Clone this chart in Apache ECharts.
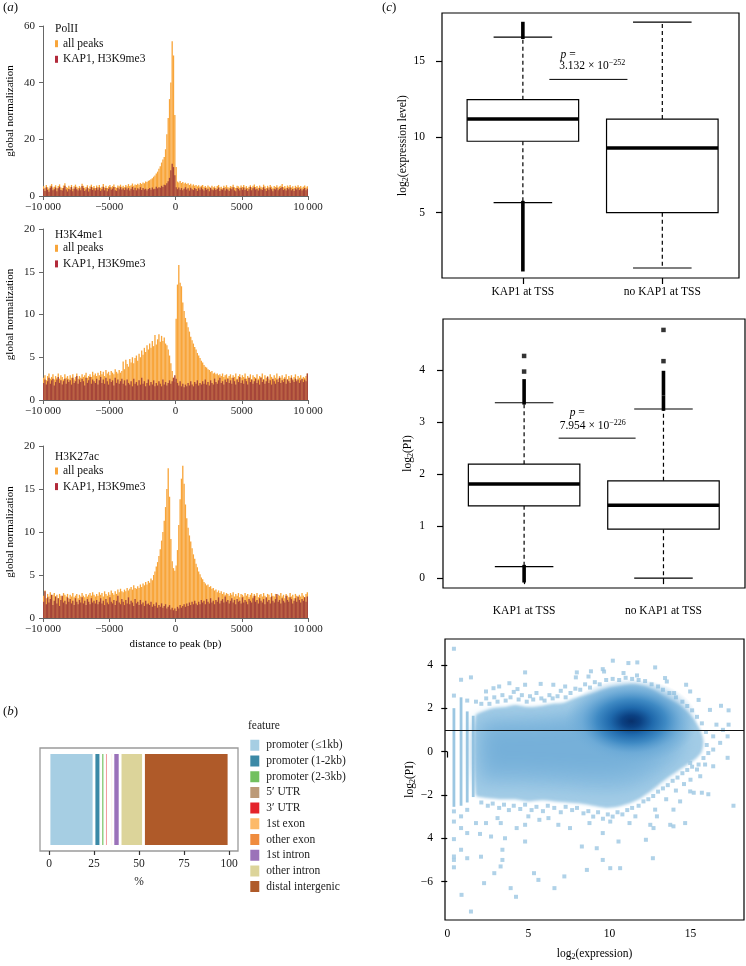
<!DOCTYPE html>
<html><head><meta charset="utf-8">
<script src="https://cdn.jsdelivr.net/npm/echarts@6/dist/echarts.min.js"></script>
<style>html,body{margin:0;padding:0;background:#fff}#c{width:746px;height:966px}</style>
</head><body><div id="c"></div><script>
// ---------------- DATA ----------------
// (a) histogram bins: 100 bp bins from -10000 to 10000
const BIN = 100;
const histTicks = [-10000, -5000, 0, 5000, 10000];
const histTickLabels = ['\u221210\u2009000', '\u22125000', '0', '5000', '10\u2009000'];
const histTitles = ['PolII', 'H3K4me1', 'H3K27ac'];
const histSeriesNames = ['all peaks', 'KAP1, H3K9me3'];

const polAll = [
3.4,2.8,3.9,3.1,2.6,3.6,4.2,2.9,3.3,3.8,2.7,3.5,4.1,3.0,2.8,3.7,4.5,3.2,2.9,3.6,
3.1,3.9,2.6,3.4,4.0,3.3,2.8,3.5,3.0,4.3,3.6,2.9,3.2,3.8,2.7,3.4,4.0,3.1,3.5,2.8,
3.7,3.2,3.9,2.9,3.3,4.2,3.0,3.6,2.8,3.4,3.9,3.1,3.5,4.1,3.2,2.9,3.7,3.4,4.0,3.3,
3.6,3.1,3.9,3.4,4.2,3.5,3.8,4.4,3.6,4.1,3.9,4.3,4.0,4.6,4.2,4.8,4.5,5.1,4.9,5.4,
5.6,5.9,6.3,6.8,7.2,7.9,8.6,9.6,10.5,11.8,12.9,13.8,16.5,21.8,27.5,34.2,40.1,54.6,49.6,28.6,
10.2,5.1,4.8,5.3,4.6,4.9,4.4,4.7,4.2,4.5,3.9,4.3,3.7,4.1,3.6,3.9,3.4,3.8,3.3,3.6,
3.9,3.2,3.5,3.0,3.7,3.3,2.9,3.6,3.1,3.4,2.8,3.5,3.9,3.0,3.3,2.7,3.6,3.2,3.8,3.1,
2.9,3.5,3.3,4.0,3.1,2.8,3.6,3.4,2.9,3.7,3.2,3.9,3.0,3.5,2.8,3.3,3.8,3.1,3.6,4.1,
3.2,3.5,2.9,3.7,3.3,3.0,4.0,3.4,2.8,3.6,3.1,3.9,3.3,2.7,3.5,3.2,3.8,3.0,3.4,3.6,
4.2,3.1,3.5,2.9,3.7,3.3,3.9,3.0,3.4,2.8,3.6,3.2,3.8,3.1,3.5,2.9,3.3,3.7,3.0,3.4];
const polKap = [
2.6,1.8,3.1,2.2,1.5,2.9,3.4,2.0,2.4,3.0,1.7,2.7,3.3,2.1,1.9,2.8,3.6,2.3,1.6,2.5,
2.2,3.2,1.7,2.6,3.1,2.4,1.9,2.7,2.0,3.5,2.8,1.8,2.3,3.0,1.6,2.5,3.2,2.1,2.7,1.9,
2.9,2.2,3.0,1.8,2.4,3.3,2.0,2.8,1.7,2.5,3.1,2.2,2.6,3.2,2.0,1.8,2.9,2.4,3.1,2.3,
2.7,2.1,3.0,2.3,2.8,1.9,2.6,3.2,2.2,2.9,2.0,2.7,2.4,3.1,2.1,2.8,2.3,2.6,1.9,2.5,
2.8,2.2,3.0,2.4,2.6,3.3,2.7,3.1,2.9,3.6,3.2,4.0,3.8,4.5,5.2,6.4,9.1,11.4,10.2,7.3,
3.1,2.4,3.0,2.2,2.8,2.0,2.6,3.1,2.3,2.7,1.9,2.9,2.4,2.1,2.8,2.5,1.8,2.7,2.2,3.0,
2.4,1.9,2.8,2.2,2.6,1.7,2.9,2.3,2.0,2.7,2.1,2.5,3.0,1.8,2.4,2.2,2.8,1.9,2.6,2.3,
1.8,2.7,2.4,3.1,2.0,1.7,2.8,2.5,1.9,2.9,2.2,3.0,2.1,2.6,1.8,2.4,3.2,2.0,2.7,3.1,
2.3,2.6,1.9,2.8,2.4,2.1,3.1,2.5,1.8,2.7,2.2,3.0,2.4,1.7,2.6,2.3,2.9,2.0,2.5,2.8,
3.2,2.1,2.6,1.9,2.8,2.4,3.0,2.0,2.5,1.8,2.7,2.3,2.9,2.1,2.6,1.9,2.4,2.8,2.0,2.6];
const k4All = [
2.6,2.9,2.3,2.8,3.1,2.5,2.7,3.0,2.4,2.8,2.6,3.1,2.5,2.9,2.7,2.4,3.0,2.6,2.8,2.5,
2.9,2.6,3.0,2.4,2.7,3.1,2.5,2.8,2.6,3.0,2.7,2.9,3.2,2.6,2.8,3.0,2.7,3.3,2.9,3.1,
2.8,3.2,2.9,3.4,3.0,3.3,2.8,3.5,3.1,3.3,2.9,3.4,3.2,3.0,3.6,3.3,3.1,3.5,3.2,3.4,
4.5,3.6,4.7,4.2,3.9,4.8,4.4,5.0,4.3,4.9,5.2,4.6,5.4,5.0,5.8,5.3,6.1,5.6,6.4,5.9,
6.6,6.1,6.9,6.3,7.6,6.5,7.1,7.7,6.8,7.5,6.9,7.3,6.6,6.4,5.9,5.2,4.3,3.4,2.6,2.1,
9.5,13.5,15.8,13.7,13.3,11.4,10.4,9.6,9.1,8.5,8.0,7.4,7.0,6.6,6.2,5.9,5.5,5.2,4.9,4.6,
4.4,4.1,3.9,3.8,3.6,3.5,3.3,3.4,3.1,3.2,3.0,3.1,2.9,3.0,2.8,3.1,2.7,2.9,3.0,2.6,
2.8,3.0,2.6,2.9,2.7,3.1,2.5,2.8,3.0,2.6,2.9,2.7,3.1,2.5,2.8,2.6,3.0,2.4,2.9,2.7,
2.6,3.0,2.5,2.8,2.7,3.1,2.4,2.9,2.6,2.8,2.5,3.0,2.7,2.4,2.9,2.6,3.1,2.5,2.8,2.6,
2.9,2.5,2.7,3.0,2.4,2.8,2.6,2.9,2.5,2.7,3.0,2.4,2.8,2.6,2.9,2.5,2.7,2.6,2.8,3.1];
const k4Kap = [
2.0,2.4,1.8,2.2,2.6,1.9,2.3,2.5,1.7,2.1,2.4,2.7,2.0,2.3,1.8,2.2,2.5,1.9,2.4,2.1,
2.3,1.8,2.6,2.0,2.2,2.8,1.9,2.4,2.1,2.5,2.2,1.7,2.6,2.0,2.3,2.7,1.9,2.4,2.2,2.0,
2.5,1.8,2.3,2.7,2.0,2.4,1.9,2.6,2.2,1.8,2.5,2.1,2.3,1.7,2.6,2.0,2.4,1.9,2.2,2.5,
1.9,2.3,1.7,2.4,2.0,1.8,2.2,1.6,2.5,1.9,2.1,1.7,2.3,1.8,2.6,1.9,2.2,1.6,2.0,2.4,
1.7,2.1,1.8,2.3,1.6,2.0,1.7,2.2,1.9,1.6,2.4,1.8,2.1,1.7,2.0,2.3,1.9,2.2,2.6,2.9,
2.5,2.0,1.7,2.2,1.6,1.9,1.5,1.8,1.6,2.0,1.7,2.2,1.8,1.6,2.1,1.9,2.3,1.7,2.0,1.8,
2.2,1.9,2.4,1.8,2.1,1.7,2.3,2.0,1.8,2.5,2.1,1.9,2.3,2.6,2.0,2.2,1.8,2.4,2.1,2.5,
2.0,2.3,1.9,2.6,2.2,1.8,2.4,2.1,2.7,2.0,2.3,1.9,2.5,2.2,1.8,2.6,2.1,2.4,1.9,2.2,
2.5,2.0,2.3,1.8,2.6,2.1,2.4,1.9,2.2,2.7,2.0,2.3,1.8,2.5,2.2,1.9,2.4,2.1,2.6,2.0,
2.3,2.1,2.5,1.9,2.4,2.2,2.0,2.6,2.3,2.1,2.5,2.2,2.4,2.0,2.3,2.5,2.1,2.4,2.2,3.1];
const k27All = [
2.6,3.2,2.3,2.8,2.5,3.0,2.4,2.7,2.9,2.5,2.7,2.3,2.8,2.6,2.4,2.9,2.7,2.5,2.8,2.3,
2.7,2.5,2.9,2.4,2.6,2.8,2.3,2.7,2.5,2.9,2.6,2.4,2.8,2.5,2.7,2.9,2.6,3.0,2.7,2.5,
2.8,2.6,3.0,2.7,2.9,2.5,3.1,2.8,2.6,3.0,2.7,3.2,2.9,2.7,3.1,2.8,3.3,3.0,3.4,3.1,
3.0,3.3,3.1,3.5,3.2,3.4,3.6,3.3,3.8,3.5,3.4,3.7,3.5,3.9,3.6,4.0,3.8,4.2,3.9,4.3,
4.1,4.6,4.4,5.0,5.4,6.0,6.5,7.2,8.0,9.0,10.0,11.3,12.9,15.0,17.4,14.1,9.2,6.6,5.8,5.5,
6.1,7.9,10.8,13.8,16.2,17.7,15.6,13.2,11.6,10.5,9.6,8.9,8.1,7.4,6.9,6.3,5.9,5.4,5.1,4.7,
4.5,4.2,4.0,3.8,3.9,3.6,3.7,3.4,3.5,3.2,3.3,3.0,3.2,2.9,3.1,2.8,3.0,2.7,2.9,2.8,
2.6,2.9,2.7,3.0,2.5,2.8,2.6,2.9,2.4,2.8,2.7,2.5,2.9,2.6,2.8,2.4,2.7,2.9,2.5,2.8,
2.6,2.9,2.4,2.7,2.8,2.5,2.9,2.6,2.3,2.8,2.7,2.4,2.9,2.6,2.5,2.8,2.4,2.7,2.6,2.9,
2.5,2.7,2.3,2.8,2.6,2.4,2.9,2.5,2.7,2.3,2.8,2.6,2.4,2.7,2.5,2.9,2.6,2.4,2.8,3.0];
const k27Kap = [
1.9,3.1,1.6,2.4,1.8,2.2,2.7,1.5,2.0,2.5,1.7,2.3,1.4,2.1,2.6,1.8,2.0,1.6,2.4,1.9,
2.2,1.7,2.0,1.5,2.3,1.9,1.6,2.1,1.8,2.4,1.7,2.0,1.5,2.2,1.9,1.6,2.3,1.8,2.0,1.7,
2.1,1.6,1.9,2.3,1.7,2.0,1.5,2.2,1.8,1.6,2.4,1.9,1.7,2.1,1.5,2.0,2.6,1.8,1.6,2.2,
1.9,1.5,2.1,1.7,2.4,1.6,2.0,1.8,1.4,2.2,1.7,1.9,1.5,2.1,1.6,1.8,1.4,2.0,1.6,1.7,
1.5,1.9,1.3,1.6,1.4,1.8,1.2,1.5,1.3,1.7,1.2,1.4,1.6,1.1,1.3,1.5,1.0,1.2,0.9,1.1,
0.8,1.3,1.1,1.5,1.2,1.4,1.6,1.3,1.7,1.4,1.8,1.5,1.9,1.6,2.0,1.7,1.5,1.9,1.6,2.1,
1.8,2.0,1.6,2.2,1.9,1.7,2.3,1.8,2.0,1.6,2.1,1.9,2.4,1.7,2.0,2.2,1.8,2.5,1.9,2.1,
1.7,2.0,2.3,1.8,2.1,1.6,2.2,1.9,2.0,1.7,2.4,1.8,2.1,1.9,1.6,2.2,2.0,1.8,2.3,2.6,
1.9,2.1,1.7,2.3,2.0,1.8,2.2,1.6,2.4,1.9,2.1,1.7,2.5,2.0,1.8,2.2,2.8,1.9,2.1,1.7,
2.3,2.0,1.8,2.6,2.1,1.9,2.4,2.2,1.7,2.0,2.3,1.9,2.5,2.1,1.8,2.2,2.0,2.4,1.9,2.5];

// (b) genomic feature distribution (%)
const featureNames = ['promoter (\u22641kb)','promoter (1-2kb)','promoter (2-3kb)','5\u2032 UTR','3\u2032 UTR','1st exon','other exon','1st intron','other intron','distal intergenic'];
const featurePct = [25.0, 3.8, 2.2, 0.2, 1.8, 0.9, 1.6, 4.0, 13.0, 47.5];
const pctTicks = [0, 25, 50, 75, 100];

// (c) boxplots: [position, lowerWhisker, Q1, median, Q3, upperWhisker]
const boxCats = ['KAP1 at TSS', 'no KAP1 at TSS'];
const exprBox = [[1, 5.66, 9.72, 11.19, 12.47, 16.6], [2, 1.34, 5.0, 9.27, 11.19, 17.6]];
const exprOutRuns = [[1, 16.6, 17.5], [1, 1.23, 5.66]];
const exprOutPts = [];
const exprTicks = [5, 10, 15];
const piBox = [[1, 0.22, 1.39, 1.81, 2.19, 3.37], [2, 0.0, 0.94, 1.40, 1.87, 3.25]];
const piOutRuns = [[1, 3.37, 3.79], [1, -0.05, 0.22], [2, 3.25, 3.48], [2, 3.55, 3.95]];
const piOutPts = [[1, 3.97], [1, 4.27], [2, 4.17], [2, 4.77]];
const piTicks = [0, 1, 2, 3, 4];
// p-value annotations: [x1, x2, yLine, xValueText, yValueText, xP, yP]
const exprAnn = [1.19, 1.75, 13.81, 1.26, 14.67, 1.27, 15.45];
const exprPText = ['3.132', '\u2212252'];
const piAnn = [1.248, 1.8, 2.69, 1.255, 2.93, 1.327, 3.18];
const piPText = ['7.954', '\u2212226'];

// (c) scatter log2(PI) vs log2(expression)
const scatXTicks = [0, 5, 10, 15];
const scatYTicks = [-6, -4, -2, 0, 2, 4];
const scatYLabels = ['\u22126', '4', '\u22122', '0', '2', '4'];
const cloudOuter = [[1.75,1.65],[2.2,1.85],[2.8,2.0],[3.5,2.05],[4.2,2.15],[5.0,2.05],[5.8,2.1],[6.5,2.2],[7.2,2.25],[7.8,2.45],[8.5,2.6],[9.2,2.75],[10.0,2.95],[10.8,3.05],[11.5,3.1],[12.2,3.0],[12.8,2.8],[13.3,2.55],[13.8,2.35],[14.3,2.15],[14.8,1.85],[15.2,1.5],[15.6,1.0],[15.8,0.5],[15.7,0.0],[15.3,-0.35],[14.8,-0.6],[14.2,-0.9],[13.6,-1.2],[13.0,-1.55],[12.4,-1.9],[11.8,-2.2],[11.2,-2.4],[10.5,-2.55],[9.8,-2.6],[9.0,-2.5],[8.2,-2.4],[7.4,-2.35],[6.6,-2.3],[5.8,-2.25],[5.0,-2.3],[4.2,-2.2],[3.4,-2.2],[2.6,-2.15],[2.0,-2.1],[1.75,-2.0]];
const cloudMid = [[1.9,1.35],[3,1.5],[4.5,1.55],[6,1.6],[7.5,1.75],[8.5,2.0],[9.5,2.3],[10.5,2.5],[11.5,2.6],[12.5,2.4],[13.5,1.9],[14.3,1.3],[14.7,0.5],[14.3,-0.2],[13.3,-0.9],[12.3,-1.4],[11,-1.75],[9.5,-1.8],[8,-1.7],[6.5,-1.6],[5,-1.55],[3.5,-1.5],[2.2,-1.45],[1.9,-1.3]];
const cloudInner = [[2.5,1.0],[4,1.1],[5.5,1.15],[7,1.25],[8.5,1.5],[9.5,1.9],[10.5,2.15],[12,2.15],[13,1.75],[13.6,1.1],[13.5,0.4],[12.8,-0.3],[11.5,-0.8],[10,-1.0],[8.5,-1.0],[7,-0.95],[5.5,-0.9],[4,-0.85],[2.5,-0.8]];
const cloudCore = [[11.35, 1.4, 4.1, 1.95]]; // centre x, centre y, radius x, radius y
const lowExprStripes = [[0.41, 2.0, -2.55], [0.85, 2.5, -2.5], [1.23, 1.85, -2.35], [1.6, 1.65, -2.1]];
const piOutliers = [
[0.41,4.74],[0.41,2.58],[0.85,3.31],[1.46,3.42],[1.23,2.35],[1.77,2.3],[2.39,2.77],[2.85,2.92],[3.2,3.0],[3.83,3.15],[4.33,2.88],[4.8,3.65],[4.8,3.08],[5.76,3.12],[6.54,3.08],[7.27,3.0],[7.93,3.42],[7.99,3.65],[8.71,3.46],[8.86,3.7],[9.59,3.8],[9.67,3.69],[10.21,4.19],[10.87,3.62],[11.17,4.08],[11.72,4.11],[11.7,3.51],[12.82,3.88],[13.43,3.39],[13.54,3.23],[13.99,2.7],[14.73,3.08],[14.98,2.77],[15.5,2.38],[16.2,1.92],[16.88,2.11],[17.35,1.9],[17.35,1.24],[17.29,0.7],[17.29,-0.29],[17.65,-2.5],[17.0,1.0],[16.6,1.24],[16.4,0.7],[16.1,-0.07],[16.4,-0.68],[15.9,-0.6],[15.6,-1.14],[15.7,-1.9],[15.2,-1.9],[16.1,-1.97],[15.4,-0.83],[14.98,-0.53],[16.4,0.09],[16.83,0.4],
[0.41,-2.76],[0.41,-3.23],[0.41,-4.04],[0.41,-4.84],[0.41,-5.0],[0.41,-5.34],[0.85,-2.99],[0.85,-3.53],[0.85,-4.53],[0.88,-6.61],[1.23,-2.69],[1.23,-3.76],[1.23,-4.92],[1.46,-7.38],[1.77,-3.3],[2.02,-3.8],[2.08,-4.85],[2.27,-6.07],[2.39,-3.3],[2.7,-3.92],[2.9,-5.61],[3.1,-3.07],[3.3,-3.3],[3.4,-4.53],[3.4,-5.0],[3.29,-5.3],[3.56,-4.0],[3.91,-6.3],[4.24,-6.7],[4.28,-3.53],[4.8,-4.15],[4.8,-3.38],[5.0,-2.99],[5.35,-5.61],[5.62,-5.92],[5.68,-3.15],[6.24,-3.07],[6.61,-6.3],[6.85,-3.38],[7.22,-5.76],[7.57,-3.53],[8.3,-4.38],[8.61,-5.46],[8.77,-3.3],[9.22,-4.46],[9.59,-5.0],[9.59,-3.76],[10.05,-3.23],[10.05,-5.38],[10.56,-4.15],[10.66,-5.38],[11.24,-3.3],[11.6,-2.99],[12.25,-4.07],[12.52,-3.38],[12.68,-4.92],[12.72,-3.53],[12.82,-2.68],[12.93,-2.99],[13.75,-3.38],[13.95,-3.45],[13.95,-2.68],[14.36,-2.3],[14.67,-3.3],[14.98,-1.84],
[2.1,2.2],[2.4,2.45],[2.6,2.2],[2.9,2.5],[3.1,2.3],[3.4,2.6],[3.6,2.35],[3.9,2.5],[4.1,2.75],[4.4,2.4],[4.6,2.6],[4.9,2.3],[5.1,2.55],[5.3,2.4],[5.5,2.7],[5.8,2.45],[6.0,2.35],[6.3,2.6],[6.5,2.45],[6.8,2.55],[7.0,2.8],[7.3,2.5],[7.6,2.7],[7.9,2.9],[8.2,2.85],[8.5,3.1],[8.8,2.95],[9.1,3.2],[9.4,3.1],[9.8,3.3],[10.2,3.35],[10.6,3.3],[11.0,3.4],[11.4,3.35],[11.8,3.3],[12.2,3.25],[12.6,3.1],[13.0,3.0],[13.3,2.85],[13.7,2.7],[14.1,2.5],[14.5,2.3],[14.8,2.1],[15.1,1.9],[15.4,1.6],[15.7,1.3],[15.95,0.9],[16.0,0.3],[15.8,-0.3],[15.5,-0.6],
[2.1,-2.35],[2.5,-2.5],[2.8,-2.4],[3.2,-2.6],[3.5,-2.45],[3.8,-2.7],[4.1,-2.5],[4.5,-2.65],[4.8,-2.45],[5.2,-2.7],[5.5,-2.55],[5.9,-2.75],[6.2,-2.5],[6.6,-2.6],[7.0,-2.8],[7.3,-2.55],[7.7,-2.7],[8.0,-2.6],[8.4,-2.85],[8.7,-2.75],[9.0,-3.0],[9.3,-2.8],[9.6,-3.1],[9.9,-2.9],[10.2,-3.0],[10.5,-2.8],[10.8,-2.9],[11.1,-2.7],[11.4,-2.6],[11.8,-2.5],[12.1,-2.3],[12.4,-2.2],[12.7,-2.05],[13.0,-1.85],[13.3,-1.7],[13.6,-1.55],[13.9,-1.35],[14.2,-1.2],[14.5,-1.0],[14.8,-0.85],[15.1,-0.7],[14.6,-1.5],[15.0,-1.3],[14.1,-1.8],[13.5,-2.2]];
const piThreshold = 1;

// ---------------- STYLE / LAYOUT ----------------
const FONT = 'Liberation Serif';
const ORANGE = '#F8A53A', DARKRED = '#A5453A', KAPICON = '#B22A3A';
const featureColors = ['#A6CEE3','#3B89A6','#72C05F','#BC9A77','#E4232A','#FDBA69','#EF8C3E','#9B72B9','#DCD49A','#AF5A29'];
const POINT = '#9CC7E2';
const histGrids = [{left:43, top:26, width:265, height:170}, {left:43, top:229, width:265, height:171}, {left:43, top:446, width:265, height:172}];
const histYMax = [60, 20, 20], histYInt = [20, 5, 5];
const histTitleY = [29.3, 235, 456.7];
const histLegendTop = [37.2, 241.8, 464.5];
const BOX_W = 0.8, CAP_W = 0.42;
const OFF = 3000; // draw soft layers off-canvas and cast a blurred shadow back into place

const histData = [[polAll, polKap], [k4All, k4Kap], [k27All, k27Kap]];
const binStarts = polAll.map((_, i) => histTicks[0] + BIN * i);

function histRender(color) {
  return function (params, api) {
    const x0 = api.value(0), v = api.value(1);
    const p0 = api.coord([x0, 0]), p1 = api.coord([x0 + BIN, v]);
    return {type: 'rect', shape: {x: p0[0], y: p1[1], width: p1[0] - p0[0], height: p0[1] - p1[1]}, style: {fill: color}};
  };
}
function boxRender(params, api) {
  const x = api.value(0), lo = api.value(1), q1 = api.value(2), med = api.value(3), q3 = api.value(4), hi = api.value(5);
  const pL = api.coord([x - BOX_W / 2, q3]), pR = api.coord([x + BOX_W / 2, q1]);
  const c = api.coord([x, med]);
  const yLo = api.coord([x, lo])[1], yHi = api.coord([x, hi])[1];
  const cL = api.coord([x - CAP_W / 2, lo])[0], cR = api.coord([x + CAP_W / 2, lo])[0];
  const s = {stroke: '#000', lineWidth: 1.2, fill: null};
  return {type: 'group', children: [
    {type: 'line', shape: {x1: c[0], y1: pL[1], x2: c[0], y2: yHi}, style: Object.assign({lineDash: [4, 3]}, s)},
    {type: 'line', shape: {x1: c[0], y1: pR[1], x2: c[0], y2: yLo}, style: Object.assign({lineDash: [4, 3]}, s)},
    {type: 'line', shape: {x1: cL, y1: yHi, x2: cR, y2: yHi}, style: s},
    {type: 'line', shape: {x1: cL, y1: yLo, x2: cR, y2: yLo}, style: s},
    {type: 'rect', shape: {x: pL[0], y: pL[1], width: pR[0] - pL[0], height: pR[1] - pL[1]}, style: {fill: '#fff', stroke: '#000', lineWidth: 1.2}},
    {type: 'line', shape: {x1: pL[0], y1: c[1], x2: pR[0], y2: c[1]}, style: {stroke: '#000', lineWidth: 3.6}}
  ]};
}
function runRender(params, api) {
  const x = api.value(0);
  const a = api.coord([x, api.value(1)]), b = api.coord([x, api.value(2)]);
  return {type: 'rect', shape: {x: a[0] - 1.8, y: Math.min(a[1], b[1]) - 1.8, width: 3.6, height: Math.abs(a[1] - b[1]) + 3.6}, style: {fill: '#000'}};
}
function annRender(ann, txt) {
  return function (params, api) {
    const a = api.coord([ann[0], ann[2]]), b = api.coord([ann[1], ann[2]]);
    const tV = api.coord([ann[3], ann[4]]), tP = api.coord([ann[5], ann[6]]);
    const base = {font: '11.5px ' + FONT, fill: '#000', align: 'left', verticalAlign: 'middle'};
    return {type: 'group', children: [
      {type: 'line', shape: {x1: a[0], y1: a[1], x2: b[0], y2: b[1]}, style: {stroke: '#000', lineWidth: 1}},
      {type: 'text', x: tP[0], y: tP[1], style: Object.assign({text: '{i|p} =', rich: {i: {fontStyle: 'italic', fontSize: 11.5, fontFamily: FONT}}}, base)},
      {type: 'text', x: tV[0], y: tV[1], style: Object.assign({text: txt[0] + ' \u00d7 10{s|' + txt[1] + '}', lineHeight: 14, rich: {s: {fontSize: 8, fontFamily: FONT, verticalAlign: 'top', lineHeight: 9}}}, base)}
    ]};
  };
}
function softPolyRender(poly, fill, blur) {
  return function (params, api) {
    if (params.dataIndex !== 0) return null;
    const pts = poly.map(p => { const c = api.coord(p); return [c[0] - OFF, c[1]]; });
    return {type: 'polygon', shape: {points: pts, smooth: 0.25},
      style: {fill: fill, shadowColor: fill, shadowBlur: blur, shadowOffsetX: OFF, shadowOffsetY: 0}};
  };
}
function coreRender(params, api) {
  const c = api.coord([api.value(0), api.value(1)]);
  const s = api.size([api.value(2), api.value(3)]);
  return {type: 'circle', x: c[0], y: c[1], scaleY: s[1] / s[0], shape: {cx: 0, cy: 0, r: s[0]},
    style: {fill: new echarts.graphic.RadialGradient(0.5, 0.5, 0.5, [
      {offset: 0, color: '#08306B'}, {offset: 0.14, color: '#0B4183'}, {offset: 0.32, color: '#1F69AC'},
      {offset: 0.52, color: '#3F8AC4'}, {offset: 0.75, color: 'rgba(105,168,214,0.7)'}, {offset: 1, color: 'rgba(120,178,218,0)'}])}};
}
function stripeRender(params, api) {
  const a = api.coord([api.value(0), api.value(1)]), b = api.coord([api.value(0), api.value(2)]);
  return {type: 'rect', shape: {x: a[0] - 1.4, y: a[1], width: 2.8, height: b[1] - a[1]}, style: {fill: POINT}};
}

const lab = (extra) => Object.assign({fontFamily: FONT, color: '#000', fontSize: 11.5}, extra);
const grids = histGrids.map(g => Object.assign({outerBoundsMode: 'none', containLabel: false}, g)).concat([
  {left: 40, top: 748, width: 198, height: 103, show: true, borderColor: '#9a9a9a', borderWidth: 1.3, outerBoundsMode: 'none', containLabel: false},
  {left: 442, top: 13, width: 297, height: 265, show: true, borderColor: '#000', borderWidth: 1.2, outerBoundsMode: 'none', containLabel: false},
  {left: 443, top: 319, width: 302, height: 269, show: true, borderColor: '#000', borderWidth: 1.2, outerBoundsMode: 'none', containLabel: false},
  {left: 445, top: 639, width: 299, height: 281, show: true, borderColor: '#000', borderWidth: 1.2, outerBoundsMode: 'none', containLabel: false}
]);

const xAxes = [], yAxes = [], series = [], legends = [];
histGrids.forEach((g, k) => {
  xAxes.push({gridIndex: k, type: 'value', min: histTicks[0], max: histTicks[histTicks.length - 1], interval: 5000,
    axisLine: {show: true, onZero: false, lineStyle: {color: '#666', width: 1}}, axisTick: {show: true, length: 4, lineStyle: {color: '#666'}},
    axisLabel: {formatter: v => histTickLabels[histTicks.indexOf(v)], fontFamily: FONT, fontSize: 11, color: '#222', margin: 6, showMinLabel: true, showMaxLabel: true},
    splitLine: {show: false},
    name: k === 2 ? 'distance to peak (bp)' : '', nameLocation: 'middle', nameGap: 21, nameTextStyle: lab({fontSize: 11})});
  yAxes.push({gridIndex: k, type: 'value', min: 0, max: histYMax[k], interval: histYInt[k],
    axisLine: {show: true, onZero: false, lineStyle: {color: '#666', width: 1}}, axisTick: {show: true, length: 4, lineStyle: {color: '#666'}},
    axisLabel: {fontFamily: FONT, fontSize: 11, color: '#222', margin: 8}, splitLine: {show: false},
    name: 'global normalization', nameLocation: 'middle', nameGap: 27, nameTextStyle: lab({fontSize: 11})});
  const cols = [ORANGE, DARKRED];
  histData[k].forEach((arr, j) => {
    series.push({type: 'custom', name: histSeriesNames[j], xAxisIndex: k, yAxisIndex: k, z: 2 + j, clip: true,
      itemStyle: {color: cols[j]}, renderItem: histRender(cols[j]), data: arr.map((v, i) => [binStarts[i], v])});
  });
  legends.push({left: 55, top: histLegendTop[k], orient: 'vertical', padding: 0, itemGap: 2.6, itemWidth: 3, itemHeight: 7, icon: 'rect',
    selectedMode: false, textStyle: {fontFamily: FONT, fontSize: 11.5, color: '#111', lineHeight: 13, padding: [0, 0, 0, 0]},
    data: [{name: histSeriesNames[0], itemStyle: {color: ORANGE}}, {name: histSeriesNames[1], itemStyle: {color: KAPICON}}]});
});

// (b)
xAxes.push({gridIndex: 3, type: 'value', min: -5, max: 105, axisLine: {show: false},
  axisTick: {show: true, customValues: pctTicks, length: 4, lineStyle: {color: '#333', width: 1.2}},
  axisLabel: {customValues: pctTicks, fontFamily: FONT, fontSize: 11.5, color: '#222', margin: 7}, splitLine: {show: false},
  name: '%', nameLocation: 'middle', nameGap: 25, nameTextStyle: lab({fontSize: 11.5, color: '#222'})});
yAxes.push({gridIndex: 3, type: 'category', data: ['peaks'], show: false});
featureNames.forEach((n, i) => {
  series.push({type: 'bar', name: n, stack: 'feat', xAxisIndex: 3, yAxisIndex: 3, barWidth: 94, data: [featurePct[i]],
    itemStyle: {color: featureColors[i], borderColor: '#fff', borderWidth: 1.4}});
});
legends.push({left: 248.3, top: 737.8, orient: 'vertical', padding: 0, itemGap: 0.7, itemWidth: 11, itemHeight: 13, icon: 'rect',
  selectedMode: false, textStyle: {fontFamily: FONT, fontSize: 11.5, color: '#222', lineHeight: 13, padding: [0, 0, 0, 1]},
  data: featureNames.map((n, i) => ({name: n, itemStyle: {color: featureColors[i]}}))});

// (c) boxplots
const boxCfg = [
  {g: 4, xmin: 0.42, xmax: 2.55, ymin: 0.68, ymax: 18.2, ticks: exprTicks, box: exprBox, runs: exprOutRuns, pts: exprOutPts, ann: exprAnn, txt: exprPText,
   name: 'log{s|2}(expression level)', nameGap: 31, ylm: 17, xlm: 8},
  {g: 5, xmin: 0.418, xmax: 2.585, ymin: -0.19, ymax: 4.98, ticks: piTicks, box: piBox, runs: piOutRuns, pts: piOutPts, ann: piAnn, txt: piPText,
   name: 'log{s|2}(PI)', nameGap: 27, ylm: 18, xlm: 17}
];
const subRich = {s: {fontSize: 8, fontFamily: FONT, verticalAlign: 'bottom', lineHeight: 9, color: '#000'}};
boxCfg.forEach(c => {
  xAxes.push({gridIndex: c.g, type: 'value', min: c.xmin, max: c.xmax, axisLine: {show: false},
    axisTick: {show: true, customValues: [1, 2], length: 6, lineStyle: {color: '#000', width: 1.2}},
    axisLabel: {customValues: [1, 2], formatter: v => boxCats[Math.round(v) - 1], fontFamily: FONT, fontSize: 11.5, color: '#000', margin: c.xlm},
    splitLine: {show: false}});
  yAxes.push({gridIndex: c.g, type: 'value', min: c.ymin, max: c.ymax, axisLine: {show: false},
    axisTick: {show: true, customValues: c.ticks, length: 6, lineStyle: {color: '#000', width: 1.2}},
    axisLabel: {customValues: c.ticks, fontFamily: FONT, fontSize: 11.5, color: '#000', margin: c.ylm}, splitLine: {show: false},
    name: c.name, nameLocation: 'middle', nameGap: c.nameGap, nameTextStyle: lab({fontSize: 11.5, lineHeight: 14, rich: subRich})});
  series.push({type: 'custom', xAxisIndex: c.g, yAxisIndex: c.g, renderItem: boxRender, data: c.box, z: 3});
  series.push({type: 'custom', xAxisIndex: c.g, yAxisIndex: c.g, renderItem: runRender, data: c.runs, z: 4});
  series.push({type: 'scatter', xAxisIndex: c.g, yAxisIndex: c.g, symbol: 'rect', symbolSize: 4.5, itemStyle: {color: '#000'}, data: c.pts, z: 4});
  series.push({type: 'custom', xAxisIndex: c.g, yAxisIndex: c.g, renderItem: annRender(c.ann, c.txt), data: [c.ann], z: 5});
});

// (c) scatter
xAxes.push({gridIndex: 6, type: 'value', min: -0.14, max: 18.3, axisLine: {show: false},
  axisTick: {show: true, customValues: scatXTicks, length: 6, lineStyle: {color: '#000', width: 1.2}},
  axisLabel: {customValues: scatXTicks, fontFamily: FONT, fontSize: 11.5, color: '#000', margin: 8}, splitLine: {show: false},
  name: 'log{s|2}(expression)', nameLocation: 'middle', nameGap: 27, nameTextStyle: lab({fontSize: 11.5, lineHeight: 14, rich: subRich})});
yAxes.push({gridIndex: 6, type: 'value', min: -7.77, max: 5.19, axisLine: {show: false},
  axisTick: {show: true, customValues: scatYTicks, length: 6, lineStyle: {color: '#000', width: 1.2}},
  axisLabel: {customValues: scatYTicks, formatter: v => scatYLabels[scatYTicks.indexOf(Math.round(v))], fontFamily: FONT, fontSize: 11.5, color: '#000', margin: 12},
  splitLine: {show: false},
  name: 'log{s|2}(PI)', nameLocation: 'middle', nameGap: 27, nameTextStyle: lab({fontSize: 11.5, lineHeight: 14, rich: subRich})});
series.push({type: 'custom', xAxisIndex: 6, yAxisIndex: 6, renderItem: softPolyRender(cloudOuter, '#A3CCE6', 3), data: cloudOuter, z: 2});
series.push({type: 'custom', xAxisIndex: 6, yAxisIndex: 6, renderItem: stripeRender, data: lowExprStripes, z: 2});
series.push({type: 'custom', xAxisIndex: 6, yAxisIndex: 6, renderItem: softPolyRender(cloudMid, '#8ABDE0', 16), data: cloudMid, z: 3});
series.push({type: 'custom', xAxisIndex: 6, yAxisIndex: 6, renderItem: softPolyRender(cloudInner, '#76B0D9', 18), data: cloudInner, z: 4});
series.push({type: 'custom', xAxisIndex: 6, yAxisIndex: 6, renderItem: coreRender, data: cloudCore, z: 5});
series.push({type: 'scatter', xAxisIndex: 6, yAxisIndex: 6, symbol: 'rect', symbolSize: 4, itemStyle: {color: POINT}, data: piOutliers, z: 3,
  markLine: {silent: true, symbol: 'none', label: {show: false}, lineStyle: {color: '#111', width: 1.1, type: 'solid'}, data: [{yAxis: piThreshold}], z: 10}});

// text labels
const txt = (x, y, text, size, extra) => ({type: 'text', x: x, y: y, silent: true,
  style: Object.assign({text: text, font: size + 'px ' + FONT, fill: '#111', align: 'left', verticalAlign: 'middle'}, extra || {})});
const panelRich = {rich: {i: {fontStyle: 'italic', fontSize: 13, fontFamily: FONT}}};
const graphics = [
  txt(3, 8, '({i|a})', 13, panelRich), txt(3, 712, '({i|b})', 13, panelRich), txt(382, 8, '({i|c})', 13, panelRich),
  txt(55, histTitleY[0], histTitles[0], 11.5), txt(55, histTitleY[1], histTitles[1], 11.5), txt(55, histTitleY[2], histTitles[2], 11.5),
  txt(248, 726, 'feature', 11.5, {fill: '#222'})
];

const chart = echarts.init(document.getElementById('c'), null, {renderer: 'canvas'});
chart.setOption({
  animation: false, backgroundColor: '#fff', textStyle: {fontFamily: FONT},
  grid: grids, xAxis: xAxes, yAxis: yAxes, series: series, legend: legends, graphic: graphics, tooltip: {show: false}
});
</script></body></html>
